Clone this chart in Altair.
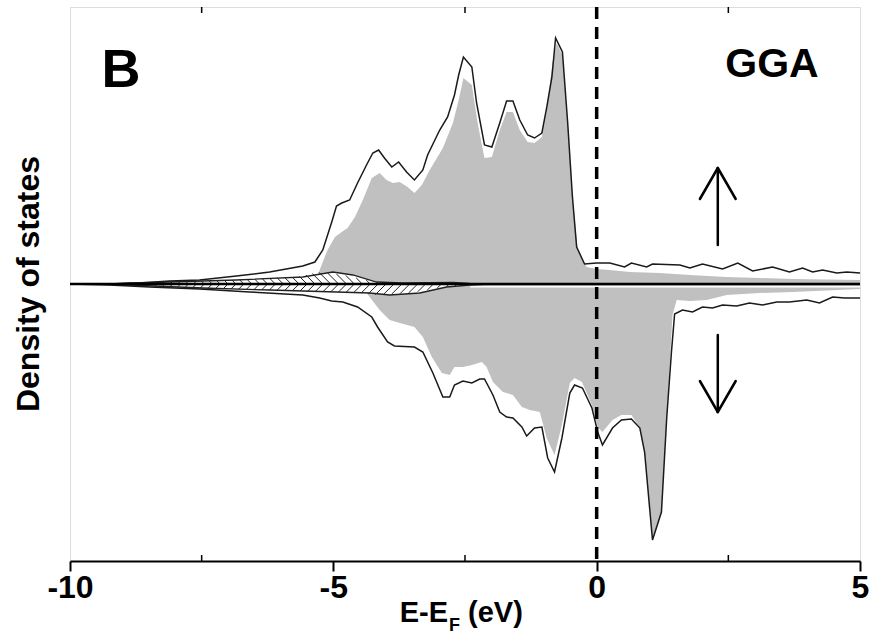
import altair as alt
import pandas as pd
import numpy as np

# ---------------- data (E in eV, DOS in arbitrary units) ----------------
up_total_E = [-10.00, -9.25, -8.68, -8.11, -7.54, -6.84, -6.21, -5.58, -5.35, -5.20, -5.03, -4.94, -4.84,
              -4.69, -4.54, -4.37, -4.25, -4.14, -4.03, -3.89, -3.76, -3.61, -3.46, -3.30, -3.21, -2.98,
              -2.83, -2.70, -2.62, -2.53, -2.37, -2.28, -2.13, -1.99, -1.84, -1.71, -1.59, -1.46, -1.31,
              -1.18, -1.04, -0.95, -0.85, -0.78, -0.65, -0.55, -0.46, -0.38, -0.23, 0.00, 0.25, 0.53, 0.66,
              0.95, 1.06, 1.58, 1.77, 2.01, 2.39, 2.68, 2.96, 3.34, 3.66, 3.91, 4.10, 4.29, 4.56, 4.75, 5.00]
up_total_D = [0.0, 0.0, 0.1, 0.3, 0.4, 0.8, 1.2, 1.8, 2.2, 3.4, 6.2, 7.8, 8.1, 8.4, 10.1, 11.9, 13.1, 13.4,
              12.6, 11.7, 12.2, 11.2, 10.4, 11.4, 12.9, 15.4, 16.7, 18.9, 20.9, 22.7, 21.7, 18.1, 13.9, 13.7,
              16.1, 18.3, 18.3, 16.4, 14.9, 14.6, 15.1, 17.6, 20.7, 24.6, 23.2, 16.1, 8.7, 3.7, 2.0, 2.1, 2.1,
              1.7, 2.1, 1.7, 2.0, 1.9, 1.6, 2.0, 1.5, 2.1, 1.3, 1.7, 1.2, 1.6, 1.2, 1.4, 1.1, 1.2, 1.1]

up_grey_E = [-10.00, -5.35, -5.26, -5.11, -4.97, -4.84, -4.73, -4.59, -4.44, -4.27, -4.12, -3.99, -3.87,
             -3.74, -3.59, -3.46, -3.32, -3.17, -2.92, -2.73, -2.62, -2.53, -2.37, -2.26, -2.13, -1.99,
             -1.84, -1.71, -1.59, -1.46, -1.31, -1.18, -1.04, -0.95, -0.84, -0.76, -0.65, -0.55, -0.46,
             -0.36, -0.19, 0.00, 0.25, 0.63, 1.20, 1.77, 2.47, 3.09, 3.72, 5.00]
up_grey_D = [0.0, 0.0, 1.4, 3.4, 4.7, 5.2, 5.6, 6.7, 8.4, 10.6, 11.1, 10.4, 10.1, 10.2, 9.7, 9.1, 9.9, 11.4,
             13.6, 16.1, 18.4, 20.6, 19.9, 16.1, 12.6, 12.7, 15.4, 17.2, 17.2, 15.4, 14.2, 14.1, 14.7, 17.1,
             22.1, 24.1, 22.9, 16.1, 8.7, 3.4, 1.7, 1.5, 1.4, 1.2, 1.1, 0.9, 0.7, 0.6, 0.5, 0.4]

dn_total_E = [-10.00, -9.25, -8.49, -7.54, -6.59, -5.58, -5.26, -5.03, -4.82, -4.54, -4.27, -4.16, -3.97,
              -3.84, -3.46, -3.30, -3.11, -2.92, -2.79, -2.70, -2.54, -2.37, -2.22, -2.13, -1.97, -1.84,
              -1.71, -1.59, -1.42, -1.33, -1.18, -1.04, -0.93, -0.80, -0.66, -0.51, -0.42, -0.27, -0.09,
              0.02, 0.11, 0.30, 0.47, 0.66, 0.82, 0.91, 1.06, 1.23, 1.33, 1.42, 1.48, 1.63, 1.82, 2.01, 2.20,
              2.39, 2.66, 2.90, 3.15, 3.42, 3.66, 3.99, 4.23, 4.48, 4.71, 5.00]
dn_total_D = [0.0, -0.1, -0.3, -0.5, -0.8, -1.1, -1.4, -1.7, -1.8, -2.3, -3.3, -4.3, -5.8, -6.2, -6.3, -6.8,
              -8.9, -11.3, -11.3, -10.1, -9.7, -9.9, -9.5, -9.5, -11.1, -12.8, -13.3, -13.4, -14.3, -15.2,
              -14.4, -14.3, -17.4, -18.8, -15.4, -10.9, -10.1, -10.4, -12.4, -14.8, -16.1, -14.4, -13.6,
              -13.5, -14.4, -16.8, -25.6, -22.8, -13.4, -6.8, -3.0, -2.6, -2.8, -2.3, -2.4, -2.1, -2.2, -1.9,
              -2.1, -1.8, -1.8, -1.6, -1.9, -1.3, -1.4, -1.4]

dn_grey_E = [-10.00, -4.50, -4.37, -4.12, -3.93, -3.74, -3.46, -3.30, -3.13, -2.94, -2.79, -2.70, -2.54,
             -2.37, -2.18, -2.09, -1.97, -1.78, -1.59, -1.42, -1.27, -1.08, -0.95, -0.80, -0.66, -0.51,
             -0.42, -0.28, -0.09, 0.02, 0.11, 0.30, 0.47, 0.66, 0.82, 0.91, 1.06, 1.23, 1.33, 1.44, 1.52,
             1.77, 2.09, 2.47, 3.09, 3.72, 5.00]
dn_grey_D = [0.0, 0.0, -0.9, -2.6, -3.6, -3.9, -4.3, -5.3, -7.3, -8.9, -9.1, -8.3, -8.3, -8.1, -7.8, -8.3,
             -9.8, -10.8, -11.1, -12.3, -12.6, -12.8, -15.4, -17.1, -14.1, -9.9, -9.4, -9.8, -12.1, -14.3,
             -14.8, -13.6, -13.1, -13.1, -14.4, -16.8, -25.6, -22.8, -13.4, -3.1, -1.6, -1.7, -1.6, -1.1,
             -0.9, -0.8, -0.5]

hatch_up_E = [-10.00, -9.25, -8.87, -8.11, -6.84, -5.58, -5.01, -4.63, -4.18, -3.68, -2.73, -2.41, -2.03, 5.00]
hatch_up_D = [0.0, 0.0, 0.1, 0.2, 0.4, 0.7, 1.2, 0.9, 0.2, 0.1, 0.15, 0.05, 0.0, 0.0]
hatch_dn_E = [-10.00, -9.25, -8.87, -7.48, -6.21, -4.94, -4.31, -3.93, -3.36, -2.85, -2.41, -2.03, 5.00]
hatch_dn_D = [0.0, 0.0, -0.1, -0.4, -0.6, -0.8, -0.9, -1.1, -0.9, -0.3, -0.1, 0.0, 0.0]

x_ticks = [-10, -5, 0, 5]
x_minor = [-7.5, -2.5, 2.5]

# ---------------- layout ----------------
W, H = 790, 554
FONT = "Liberation Sans"
xs = alt.Scale(domain=[-10, 5], nice=False, zero=False)
ys = alt.Scale(domain=[-27.7, 27.7], nice=False, zero=False)
xaxis = alt.Axis(values=x_ticks, labelExpr="toString(datum.value)", labelFont=FONT,
                 labelFontWeight="bold", labelFontSize=32, labelColor="black",
                 tickSize=10, tickWidth=2, tickColor="black", domainColor="black",
                 domainWidth=2, grid=False, title=None, labelPadding=1, labelFlush=False)


def X(field="E"):
    return alt.X(f"{field}:Q", scale=xs, axis=xaxis)


def Y(field="D"):
    return alt.Y(f"{field}:Q", scale=ys, axis=None)


def df(E, D):
    return pd.DataFrame({"E": E, "D": D, "z": 0.0})


grey = "#c0c0c0"
layers = []
for E, D in [(up_grey_E, up_grey_D), (dn_grey_E, dn_grey_D)]:
    layers.append(alt.Chart(df(E, D)).mark_area(color=grey, opacity=1)
                  .encode(x=X(), y=Y(), y2="z:Q"))

# hatched partial DOS
for E, D in [(hatch_up_E, hatch_up_D), (hatch_dn_E, hatch_dn_D)]:
    layers.append(alt.Chart(df(E, D)).mark_area(color="white", opacity=1)
                  .encode(x=X(), y=Y(), y2="z:Q"))

px_per_eV = W / 15.0
px_per_unit = H / 55.4
hx = np.arange(-9.1, -2.0, 0.15)
segs = []
for xi in hx:
    hu = float(np.interp(xi, hatch_up_E, hatch_up_D))
    hd = float(np.interp(xi, hatch_dn_E, hatch_dn_D))
    if hu * px_per_unit > 1.2:
        segs.append({"x": xi - hu * px_per_unit / px_per_eV, "y": hu, "x2": xi, "y2": 0.0})
    if -hd * px_per_unit > 1.2:
        segs.append({"x": xi - (-hd) * px_per_unit / px_per_eV, "y": hd, "x2": xi, "y2": 0.0})
layers.append(alt.Chart(pd.DataFrame(segs)).mark_rule(color="#222", strokeWidth=1)
              .encode(x=X("x"), x2="x2:Q", y=Y("y"), y2="y2:Q"))

for E, D in [(hatch_up_E, hatch_up_D), (hatch_dn_E, hatch_dn_D)]:
    layers.append(alt.Chart(df(E, D)).mark_line(color="#222", strokeWidth=1.3)
                  .encode(x=X(), y=Y()))

for E, D in [(up_total_E, up_total_D), (dn_total_E, dn_total_D)]:
    layers.append(alt.Chart(df(E, D)).mark_line(color="#1a1a1a", strokeWidth=1.5)
                  .encode(x=X(), y=Y()))

# thin white gap just below the zero line (right part)
layers.append(alt.Chart(pd.DataFrame({"E": [-2.4], "E2": [5.0], "z": [-0.27]}))
              .mark_rule(color="white", strokeWidth=1.5)
              .encode(x=X(), x2="E2:Q", y=Y("z")))

# zero line
layers.append(alt.Chart(pd.DataFrame({"z": [0.0]})).mark_rule(color="black", strokeWidth=2.5)
              .encode(y=Y("z"), x=alt.value(0), x2=alt.value(W)))

# Fermi level
layers.append(alt.Chart(pd.DataFrame({"E": [0.0]}))
              .mark_rule(color="black", strokeWidth=3.5, strokeDash=[12, 8])
              .encode(x=X(), y=alt.value(0), y2=alt.value(H)))

# minor ticks (bottom and top, inward)
mt = pd.DataFrame({"E": x_minor})
layers.append(alt.Chart(mt).mark_rule(color="black", strokeWidth=1.5)
              .encode(x=X(), y=alt.value(H), y2=alt.value(H - 6)))
layers.append(alt.Chart(mt).mark_rule(color="black", strokeWidth=1.5)
              .encode(x=X(), y=alt.value(0), y2=alt.value(6)))

# spin arrows
arrows = pd.DataFrame([
    {"x": 2.3, "y": 3.9, "x2": 2.3, "y2": 11.6},
    {"x": 2.3, "y": 11.6, "x2": 1.96, "y2": 8.5},
    {"x": 2.3, "y": 11.6, "x2": 2.64, "y2": 8.5},
    {"x": 2.3, "y": -5.1, "x2": 2.3, "y2": -12.8},
    {"x": 2.3, "y": -12.8, "x2": 1.96, "y2": -9.7},
    {"x": 2.3, "y": -12.8, "x2": 2.64, "y2": -9.7},
])
layers.append(alt.Chart(arrows).mark_rule(color="black", strokeWidth=2.5, strokeCap="round")
              .encode(x=X("x"), x2="x2:Q", y=Y("y"), y2="y2:Q"))


def txt(s, x, y, size, align="center", angle=0):
    kw = dict(text=s, font=FONT, fontWeight="bold", fontSize=size, color="black",
              align=align, baseline="alphabetic")
    if angle:
        kw["angle"] = angle
    return alt.Chart(pd.DataFrame({"a": [0]})).mark_text(**kw).encode(
        x=alt.value(x), y=alt.value(y))


layers.append(txt("B", 51, 80, 54))
layers.append(txt("GGA", 702, 70, 41))
layers.append(txt("Density of states", -31, 277, 32, angle=270))
layers.append(txt("E-E", 378, 615, 29, align="right"))
layers.append(txt("F", 379, 624, 18, align="left"))
layers.append(txt("(eV)", 398, 615, 29, align="left"))

chart = alt.layer(*layers).properties(
    width=W, height=H,
    autosize=alt.AutoSizeParams(type="none"),
    padding={"left": 70, "top": 7, "right": 9, "bottom": 83},
).configure_view(stroke="black", strokeWidth=1.5).configure(background="white")

chart.save("out.html", embed_options={"renderer": "svg", "actions": False})
